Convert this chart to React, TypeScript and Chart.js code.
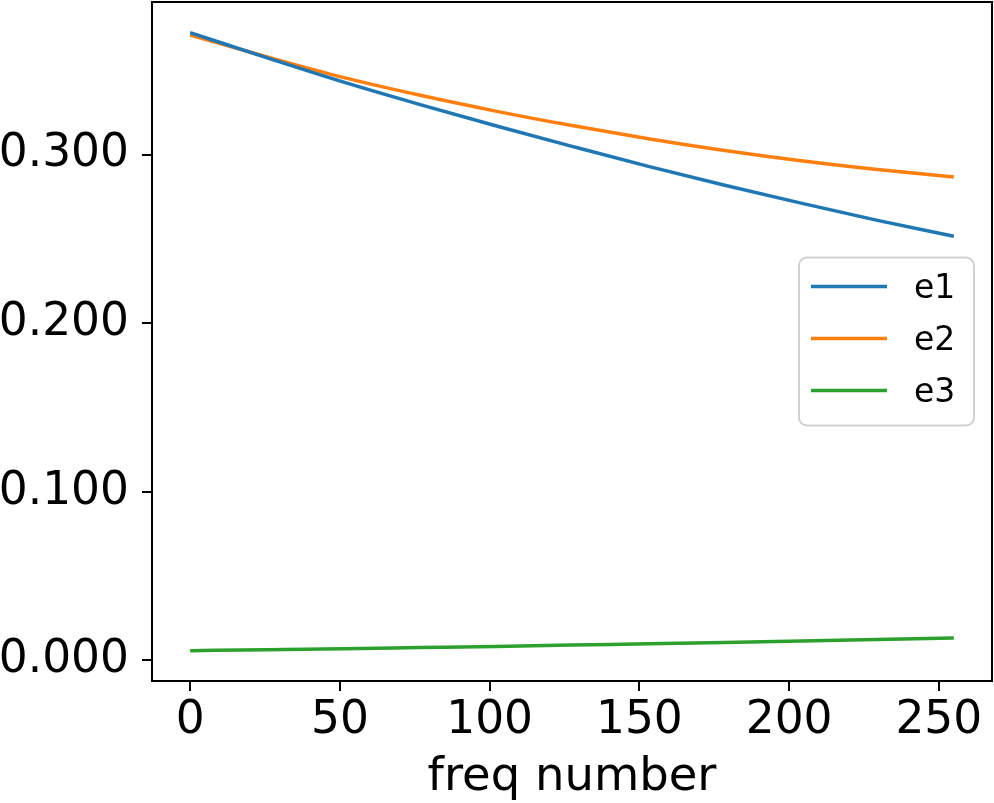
import { useEffect, useRef } from "react";
import { Chart, registerables } from "chart.js";

Chart.register(...registerables);

// Frequency index at which each value was sampled
const FREQ = [0, 25.5, 51, 76.5, 102, 127.5, 153, 178.5, 204, 229.5, 255];

// Series values
const E1 = [0.3723, 0.3575, 0.3431, 0.3298, 0.3171, 0.3049, 0.293, 0.2818, 0.2712, 0.261, 0.2516];
const E2 = [0.3709, 0.358, 0.3458, 0.3353, 0.3258, 0.3172, 0.3094, 0.3024, 0.2963, 0.2911, 0.2867];
const E3 = [0.0058, 0.0063, 0.0069, 0.0076, 0.0083, 0.0091, 0.0099, 0.0107, 0.0115, 0.0124, 0.0133];

const SERIES_NAMES = ["e1", "e2", "e3"];
const SERIES_COLORS = ["#1f77b4", "#ff7f0e", "#2ca02c"];

// Axis ticks and limits
const X_TICKS = [0, 50, 100, 150, 200, 250];
const Y_TICKS = [0, 0.1, 0.2, 0.3];
const X_LIMITS = [-12.75, 267.75];
const Y_LIMITS = [-0.0122, 0.3905];

const X_TITLE = "freq number";
const FONT_FAMILY = '"DejaVu Sans", "Liberation Sans", sans-serif';

// Black box around the plotting area
const framePlugin = {
  id: "frame",
  afterDatasetsDraw(chart: any) {
    const { ctx, chartArea } = chart;
    ctx.save();
    ctx.strokeStyle = "#000";
    ctx.lineWidth = 2;
    ctx.strokeRect(
      chartArea.left,
      chartArea.top,
      chartArea.right - chartArea.left,
      chartArea.bottom - chartArea.top
    );
    ctx.restore();
  },
};

// Legend drawn inside the plot, at the centre of the right side
const insideLegendPlugin = {
  id: "insideLegend",
  afterDraw(chart: any) {
    const { ctx, chartArea } = chart;
    const w = 175;
    const h = 168;
    const x0 = chartArea.right - 18 - w;
    const y0 = (chartArea.top + chartArea.bottom) / 2 - h / 2;
    const r = 8;
    ctx.save();
    ctx.beginPath();
    ctx.moveTo(x0 + r, y0);
    ctx.lineTo(x0 + w - r, y0);
    ctx.arcTo(x0 + w, y0, x0 + w, y0 + r, r);
    ctx.lineTo(x0 + w, y0 + h - r);
    ctx.arcTo(x0 + w, y0 + h, x0 + w - r, y0 + h, r);
    ctx.lineTo(x0 + r, y0 + h);
    ctx.arcTo(x0, y0 + h, x0, y0 + h - r, r);
    ctx.lineTo(x0, y0 + r);
    ctx.arcTo(x0, y0, x0 + r, y0, r);
    ctx.closePath();
    ctx.fillStyle = "rgba(255,255,255,0.8)";
    ctx.fill();
    ctx.strokeStyle = "#d0d0d0";
    ctx.lineWidth = 2;
    ctx.stroke();

    chart.data.datasets.forEach((ds: any, i: number) => {
      const y = y0 + 29 + i * 52;
      ctx.beginPath();
      ctx.moveTo(x0 + 12, y);
      ctx.lineTo(x0 + 88, y);
      ctx.strokeStyle = ds.borderColor;
      ctx.lineWidth = 3.5;
      ctx.stroke();
      ctx.fillStyle = "#000";
      ctx.font = `33px ${FONT_FAMILY}`;
      ctx.textAlign = "left";
      ctx.textBaseline = "middle";
      ctx.fillText(ds.label, x0 + 115, y + 3);
    });
    ctx.restore();
  },
};

function LineChart() {
  const canvasRef = useRef<HTMLCanvasElement | null>(null);

  useEffect(() => {
    const canvas = canvasRef.current;
    if (!canvas) return;
    const seriesValues = [E1, E2, E3];
    const chart = new Chart(canvas, {
      type: "line",
      data: {
        datasets: seriesValues.map((vals, i) => ({
          label: SERIES_NAMES[i],
          data: FREQ.map((f, j) => ({ x: f, y: vals[j] })),
          borderColor: SERIES_COLORS[i],
          backgroundColor: SERIES_COLORS[i],
          borderWidth: 3.5,
          pointRadius: 0,
          pointHoverRadius: 0,
          cubicInterpolationMode: "monotone" as const,
          fill: false,
        })),
      },
      options: {
        animation: false,
        responsive: false,
        maintainAspectRatio: false,
        devicePixelRatio: 1,
        events: [],
        layout: { padding: { left: 0, right: 2, top: 2, bottom: 0 } },
        plugins: {
          legend: { display: false },
          tooltip: { enabled: false },
          title: { display: false },
        },
        scales: {
          x: {
            type: "linear",
            min: X_LIMITS[0],
            max: X_LIMITS[1],
            afterBuildTicks: (scale: any) => {
              scale.ticks = X_TICKS.map((v) => ({ value: v }));
            },
            afterFit: (scale: any) => {
              scale.height = 122;
              scale.paddingLeft = 0;
              scale.paddingRight = 0;
            },
            border: { display: false },
            grid: {
              display: true,
              drawOnChartArea: false,
              drawTicks: true,
              tickLength: 10,
              color: "#000",
              lineWidth: 2,
            },
            ticks: {
              color: "#000",
              padding: 3,
              maxRotation: 0,
              autoSkip: false,
              font: { family: FONT_FAMILY, size: 45.5 },
              callback: (v: any) => String(v),
            },
            title: {
              display: true,
              text: X_TITLE,
              color: "#000",
              padding: { top: 0, bottom: 0 },
              font: { family: FONT_FAMILY, size: 46.5, lineHeight: 1.08 },
            },
          },
          y: {
            type: "linear",
            min: Y_LIMITS[0],
            max: Y_LIMITS[1],
            afterBuildTicks: (scale: any) => {
              scale.ticks = Y_TICKS.map((v) => ({ value: v }));
            },
            afterFit: (scale: any) => {
              scale.width = 192;
              scale.paddingTop = 0;
              scale.paddingBottom = 0;
            },
            border: { display: false },
            grid: {
              display: true,
              drawOnChartArea: false,
              drawTicks: true,
              tickLength: 10,
              color: "#000",
              lineWidth: 2,
            },
            ticks: {
              color: "#000",
              padding: 13,
              autoSkip: false,
              font: { family: FONT_FAMILY, size: 45.5 },
              callback: (v: any) => Number(v).toFixed(3),
            },
          },
        },
      },
      plugins: [framePlugin, insideLegendPlugin],
    });
    return () => chart.destroy();
  }, []);

  return (
    <canvas
      ref={canvasRef}
      width={1034}
      height={803}
      style={{ position: "absolute", left: -40, top: 0, width: 1034, height: 803 }}
    />
  );
}

export default function App() {
  return (
    <div
      style={{
        position: "fixed",
        left: 0,
        top: 0,
        width: 994,
        height: 803,
        overflow: "hidden",
        background: "#fff",
      }}
    >
      <LineChart />
    </div>
  );
}
